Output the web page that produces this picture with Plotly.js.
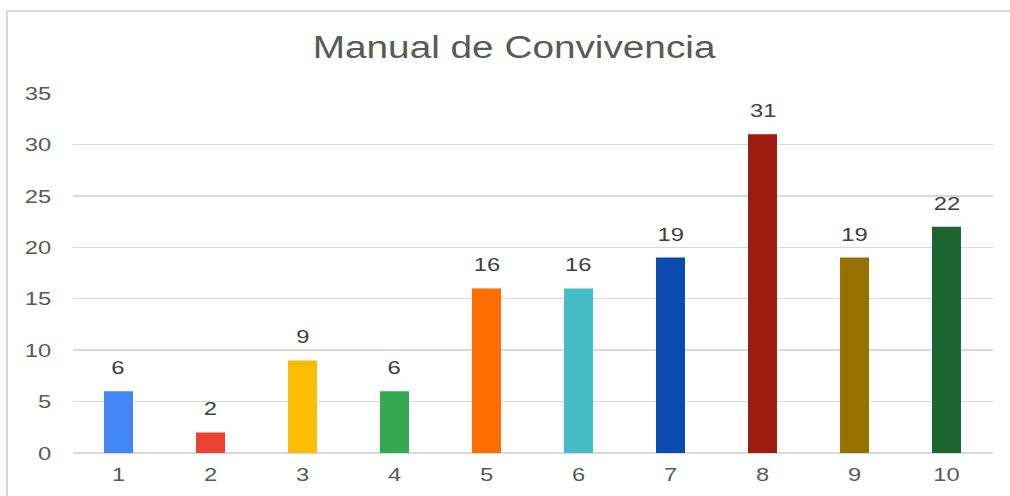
<!DOCTYPE html>
<html>
<head>
<meta charset="utf-8">
<script src="https://cdn.plot.ly/plotly-3.0.1.min.js"></script>
<style>
  html, body { margin: 0; padding: 0; background: #fff; overflow: hidden; }
  #frame { position: absolute; left: 6px; top: 10px; width: 1004px; height: 486px;
           border-left: 2px solid #d9d9d9; border-top: 2px solid #d9d9d9; box-sizing: border-box; }
  #chart { position: absolute; left: 0; top: 0; width: 808px; height: 496px;
           transform: scaleX(1.25); transform-origin: 0 0; }
</style>
</head>
<body>
<div id="frame"></div>
<div id="chart"></div>
<script>
const categories = ["1", "2", "3", "4", "5", "6", "7", "8", "9", "10"];
const values = [6, 2, 9, 6, 16, 16, 19, 31, 19, 22];
const barColors = ["#4285F4", "#EA4335", "#FBBC04", "#34A853", "#FF6D01",
                   "#46BDC6", "#0B4BB0", "#9C1C12", "#977100", "#1E6433"];
const yTicks = [0, 5, 10, 15, 20, 25, 30, 35];
const chartTitle = "Manual de Convivencia";

const trace = {
  type: "bar",
  x: categories,
  y: values,
  marker: { color: barColors },
  hoverinfo: "x+y"
};

// category axis: annotation x is the category index
const annotations = categories.map((c, i) => ({
  x: i, y: values[i], xref: "x", yref: "y",
  text: String(values[i]), showarrow: false,
  xanchor: "center", yanchor: "bottom", yshift: 11,
  font: { family: "Liberation Sans, Arial, sans-serif", size: 19, color: "#404040" }
}));

const layout = {
  width: 808, height: 496,
  margin: { l: 57.6, r: 13.6, t: 93, b: 43 },
  paper_bgcolor: "rgba(0,0,0,0)",
  plot_bgcolor: "rgba(0,0,0,0)",
  bargap: 0.685,
  showlegend: false,
  title: {
    text: chartTitle,
    x: 0.509, xref: "container", xanchor: "center",
    y: 0.905, yref: "container", yanchor: "middle",
    font: { family: "Liberation Sans, Arial, sans-serif", size: 31, color: "#595959" }
  },
  xaxis: {
    type: "category", range: [-0.5, categories.length - 0.5],
    showgrid: false, zeroline: false, showline: false,
    ticks: "", ticklabelstandoff: 8,
    tickfont: { family: "Liberation Sans, Arial, sans-serif", size: 19, color: "#595959" }
  },
  yaxis: {
    range: [0, 35], tickvals: yTicks, ticktext: yTicks.map(String),
    showgrid: true, gridcolor: "#d9d9d9", gridwidth: 1.5,
    zeroline: true, zerolinecolor: "#d9d9d9", zerolinewidth: 2,
    showline: false, ticks: "", ticklabelstandoff: 16,
    tickfont: { family: "Liberation Sans, Arial, sans-serif", size: 19, color: "#595959" }
  },
  annotations: annotations
};

Plotly.newPlot("chart", [trace], layout, { displayModeBar: false, staticPlot: true });
</script>
</body>
</html>
